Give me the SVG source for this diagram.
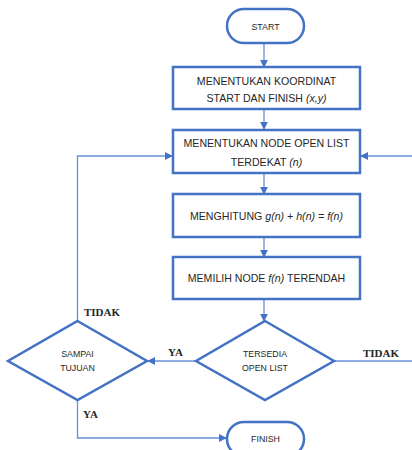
<svg xmlns="http://www.w3.org/2000/svg" width="412" height="450" viewBox="0 0 412 450">
<style>
.box{fill:#fff;stroke:#4472C4;stroke-width:2.5}
.c{fill:none;stroke:#6690D8;stroke-width:1.3}
.t{font-family:"Liberation Sans",Arial,sans-serif;font-size:10.6px;fill:#262626;text-anchor:middle;dominant-baseline:central}
.s{font-size:8.8px}
.l{font-family:"Liberation Serif","Times New Roman",serif;font-weight:bold;font-size:11px;fill:#262626;dominant-baseline:central}
</style>
<defs>
<marker id="a" viewBox="0 0 10 10" refX="9" refY="5" markerWidth="8" markerHeight="8" markerUnits="userSpaceOnUse" orient="auto">
<path d="M0,0 L10,5 L0,10 z" fill="#4472C4"/>
</marker>
</defs>
<rect width="412" height="450" fill="#fff"/>
<g id="connectors">
<line class="c" x1="264" y1="43" x2="264" y2="67" marker-end="url(#a)"/>
<line class="c" x1="264" y1="109" x2="264" y2="129" marker-end="url(#a)"/>
<line class="c" x1="264" y1="173" x2="264" y2="194" marker-end="url(#a)"/>
<line class="c" x1="264" y1="237" x2="264" y2="257" marker-end="url(#a)"/>
<line class="c" x1="264" y1="300" x2="264" y2="321" marker-end="url(#a)"/>
<line class="c" x1="196" y1="361" x2="148" y2="361" marker-end="url(#a)"/>
<line class="c" x1="334" y1="361" x2="412" y2="361"/>
<line class="c" x1="412" y1="156" x2="361" y2="156" marker-end="url(#a)"/>
<polyline class="c" points="77.5,321 77.5,156 172,156" marker-end="url(#a)"/>
<polyline class="c" points="77.5,400 77.5,438 226,438" marker-end="url(#a)"/>
<text class="l" x="84" y="312">TIDAK</text>
<text class="l" x="168" y="352">YA</text>
<text class="l" x="363" y="353">TIDAK</text>
<text class="l" x="83" y="414">YA</text>
</g>
<g id="start">
<rect class="box" x="227" y="9" width="77" height="34" rx="17"/>
<text class="t s" x="265.5" y="27">START</text>
</g>
<g id="koordinat">
<rect class="box" x="173" y="67" width="187" height="42"/>
<text class="t" x="266.5" y="81">MENENTUKAN KOORDINAT</text>
<text class="t" x="266.5" y="98">START DAN FINISH <tspan font-style="italic">(x,y)</tspan></text>
</g>
<g id="openlist">
<rect class="box" x="173" y="130" width="187" height="43"/>
<text class="t" x="266.5" y="143">MENENTUKAN NODE OPEN LIST</text>
<text class="t" x="266.5" y="162">TERDEKAT <tspan font-style="italic">(n)</tspan></text>
</g>
<g id="hitung">
<rect class="box" x="173" y="194" width="187" height="43"/>
<text class="t" x="266.5" y="216">MENGHITUNG <tspan font-style="italic">g(n) + h(n) = f(n)</tspan></text>
</g>
<g id="pilih">
<rect class="box" x="173" y="257" width="187" height="42"/>
<text class="t" x="266.5" y="278">MEMILIH NODE <tspan font-style="italic">f(n)</tspan> TERENDAH</text>
</g>
<g id="tersedia">
<polygon class="box" points="265,321 334,361 265,400 196,361"/>
<text class="t s" x="265" y="354">TERSEDIA</text>
<text class="t s" x="265" y="368">OPEN LIST</text>
</g>
<g id="sampai">
<polygon class="box" points="77.5,321 147,361 77.5,400 8,361"/>
<text class="t s" x="77.5" y="354">SAMPAI</text>
<text class="t s" x="77.5" y="368">TUJUAN</text>
</g>
<g id="finish">
<rect class="box" x="227" y="422" width="77" height="34" rx="17"/>
<text class="t s" x="265.5" y="439">FINISH</text>
</g>
</svg>
